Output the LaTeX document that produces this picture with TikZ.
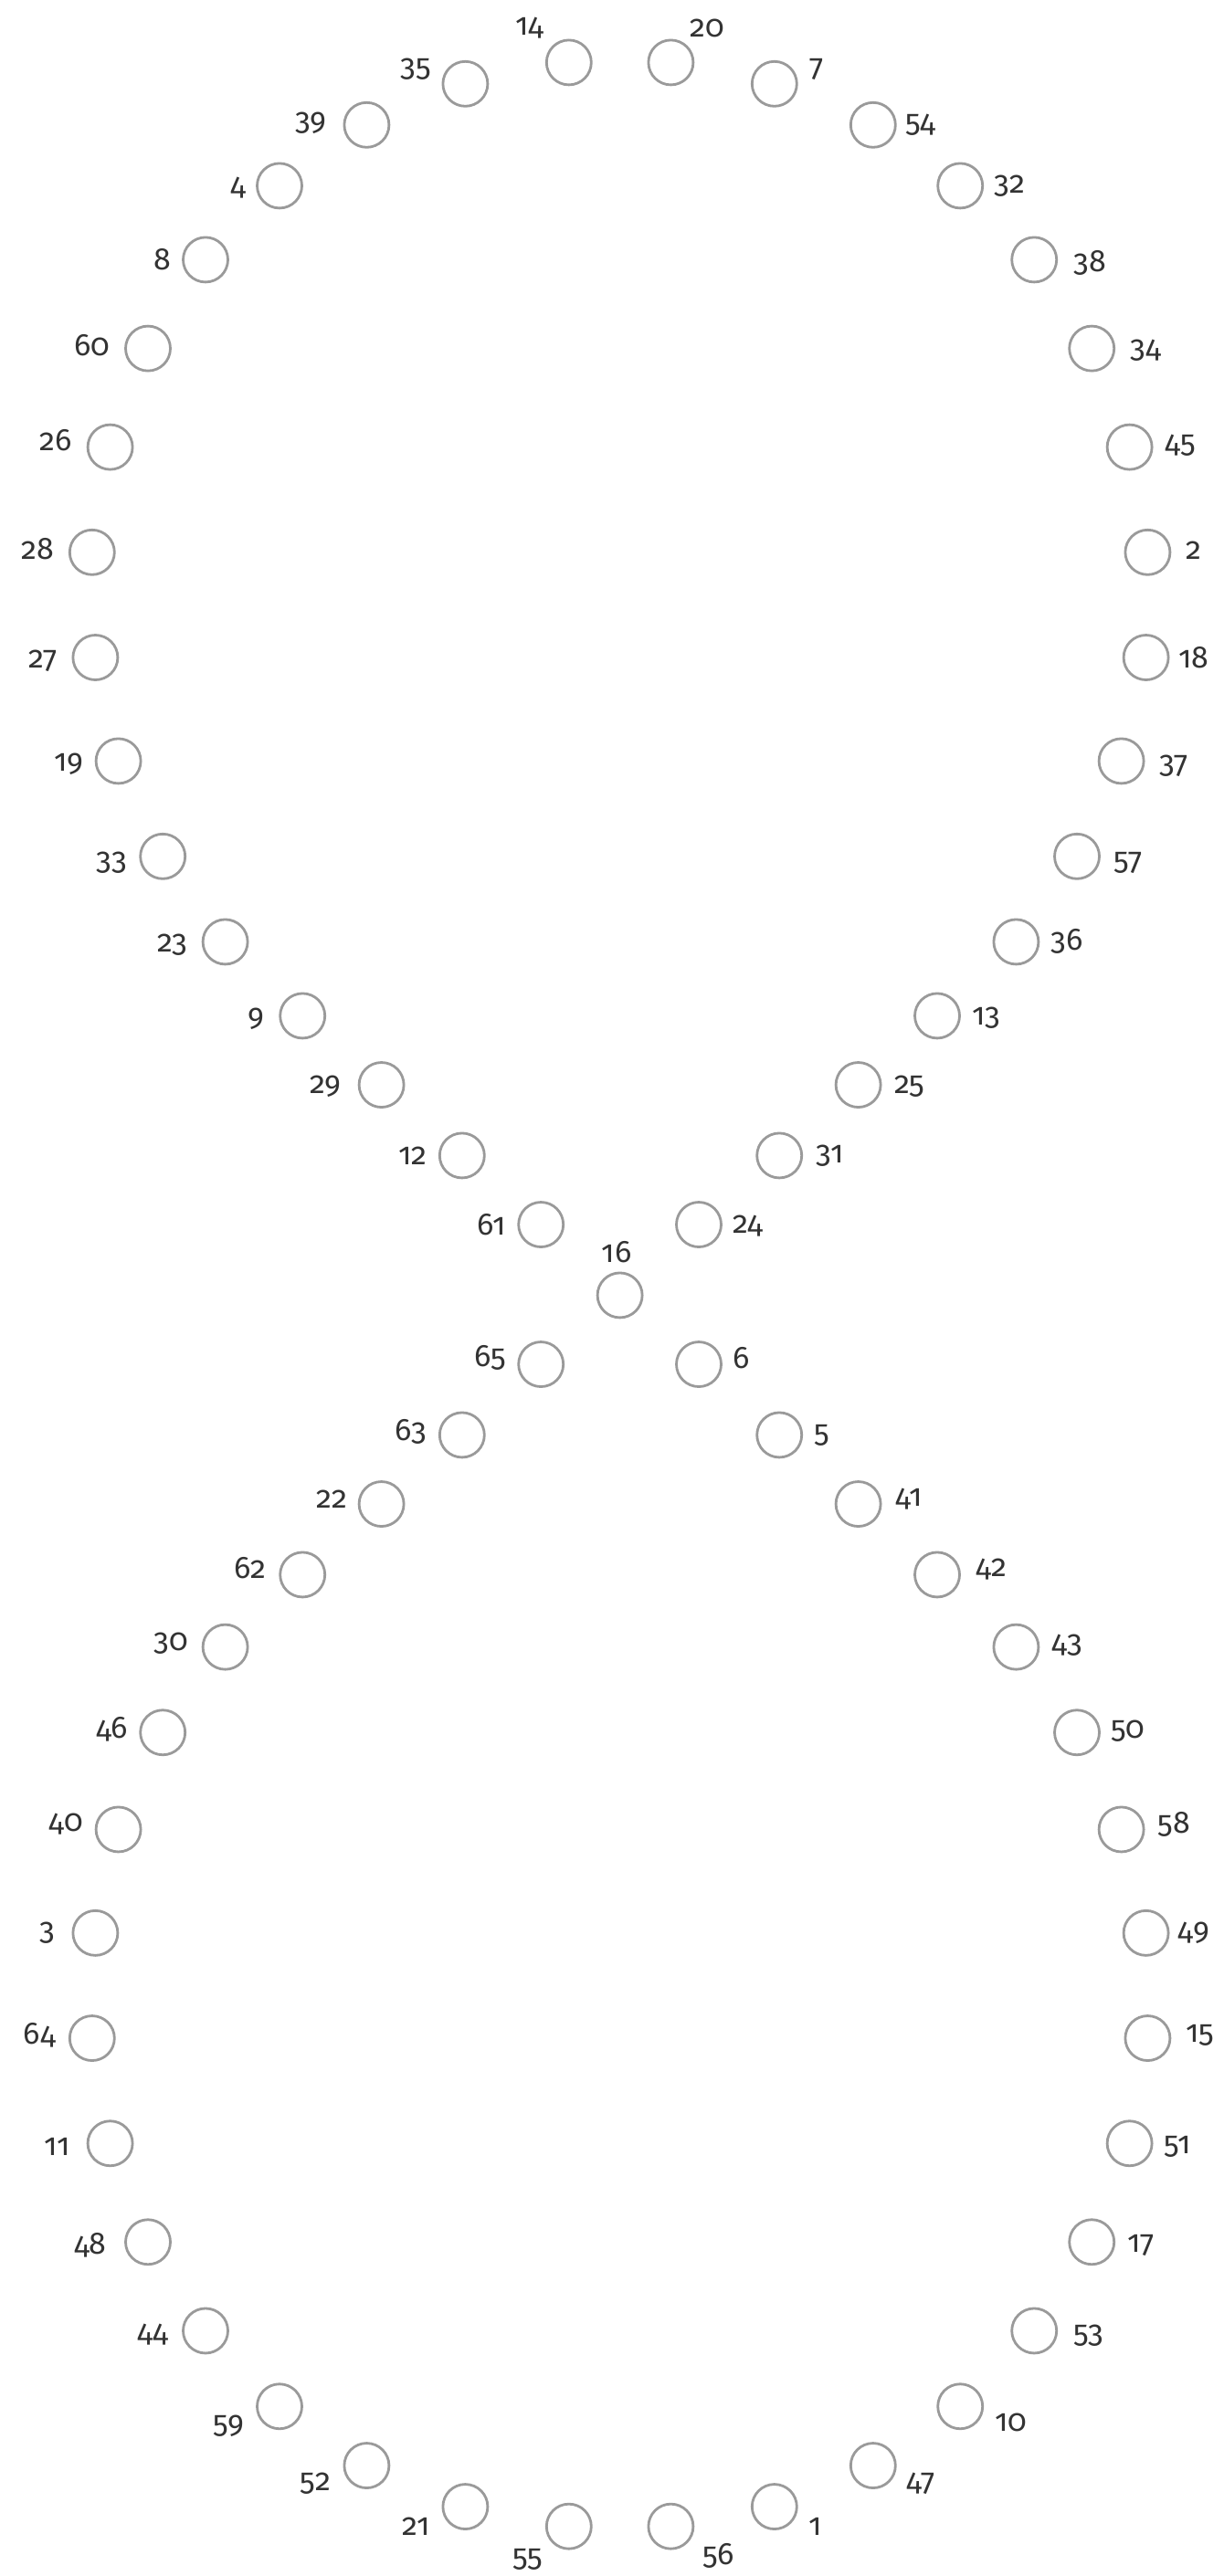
\documentclass[tikz,border=0pt]{standalone}
\usepackage{fontspec}
\setmainfont[Numbers=OldStyle]{Fira Sans}
\definecolor{ringgray}{HTML}{9A9A9A}
\definecolor{labelgray}{HTML}{333333}
\tikzset{
  ring/.style={circle, draw=ringgray, line width=2.8pt, minimum size=49pt, inner sep=0pt},
  numlabel/.style={text=labelgray, font=\fontsize{34}{38}\selectfont, inner sep=0pt, anchor=center}
}
\begin{document}
\begin{tikzpicture}[x=1.8pt,y=-1.8pt]
\useasboundingbox[fill=white] (0,0) rectangle (744,1567.2);
\foreach \n/\cx/\cy/\lx/\ly in {14/346/38/322/17, 20/408/38/430/17, 35/283/51/253/42, 7/471/51/497/42, 39/223/76/189/75, 54/531/76/560/76, 4/170/113/145/114, 32/584/113/614/113, 8/125/158/99/158, 38/629/158/663/160, 60/90/212/56/210, 34/664/212/697/213, 26/67/272/34/268, 45/687/272/718/271, 28/56/336/23/334, 2/698/336/726/335, 27/58/400/26/402, 18/697/400/726/400, 19/72/463/42/465, 37/682/463/714/466, 33/99/521/68/525, 57/655/521/686/525, 23/137/573/105/575, 36/618/573/649/573, 9/184/618/156/620, 13/570/618/600/619, 29/232/660/198/661, 25/522/660/553/661, 12/281/703/251/703, 31/474/703/505/703, 61/329/745/299/745, 24/425/745/455/746, 16/377/788/375/762, 65/329/830/298/826, 6/425/830/451/826, 63/281/873/250/871, 5/474/873/500/873, 22/232/915/202/912, 41/522/915/553/912, 62/184/958/152/954, 42/570/958/603/955, 30/137/1002/104/1000, 43/618/1002/649/1001, 46/99/1054/68/1052, 50/655/1054/686/1053, 40/72/1113/40/1110, 58/682/1113/714/1110, 3/58/1176/29/1176, 49/697/1176/726/1176, 64/56/1240/24/1238, 15/698/1240/730/1238, 11/67/1304/35/1306, 51/687/1304/716/1306, 48/90/1364/55/1366, 17/664/1364/694/1366, 44/125/1418/93/1420, 53/629/1418/662/1421, 59/170/1464/139/1476, 10/584/1464/615/1474, 52/223/1500/192/1511, 47/531/1500/560/1511, 21/283/1525/253/1537, 1/471/1525/496/1537, 55/346/1537/321/1557, 56/408/1537/437/1555}{
  \node[ring] (c\n) at (\cx,\cy) {};
  \node[numlabel] (l\n) at (\lx,\ly) {\n};
}
\end{tikzpicture}
\end{document}
